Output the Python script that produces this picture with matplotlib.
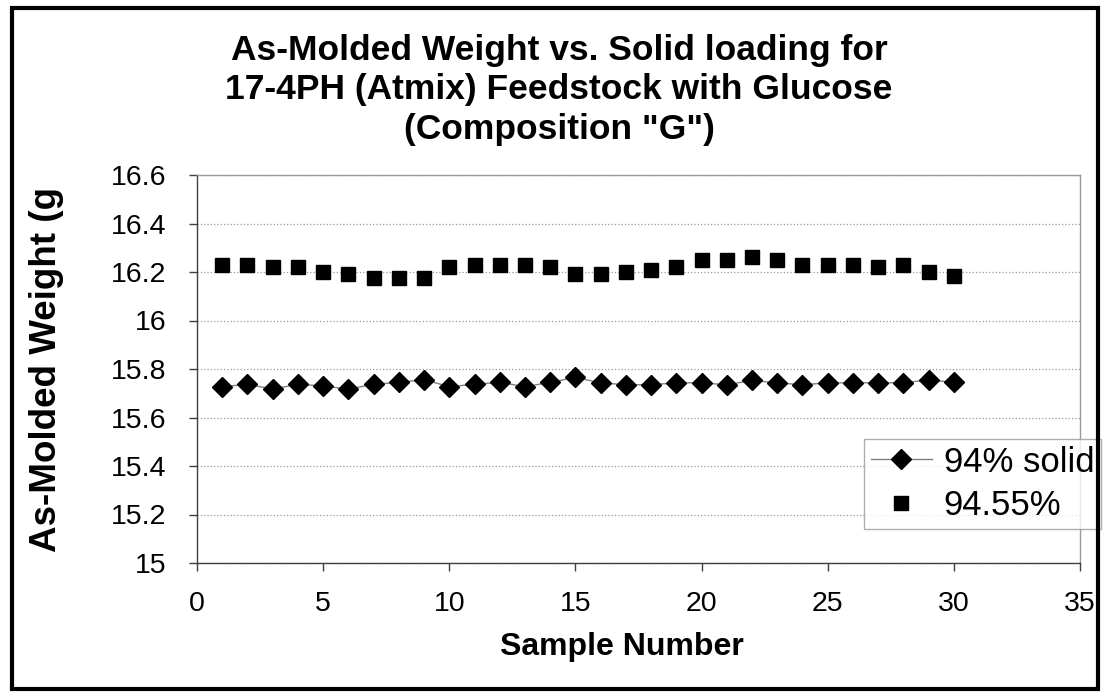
import numpy as np
import matplotlib.pyplot as plt
from matplotlib.patches import Rectangle

plt.rcParams['font.family'] = ['Liberation Sans', 'DejaVu Sans']

# sample numbers
samples = list(range(1, 31))

# 94% solid loading
solid_94 = [15.727, 15.737, 15.717, 15.737, 15.730, 15.717, 15.737, 15.745, 15.756, 15.727,
            15.737, 15.745, 15.727, 15.745, 15.765, 15.743, 15.735, 15.735, 15.743, 15.743,
            15.735, 15.753, 15.743, 15.735, 15.743, 15.743, 15.743, 15.743, 15.755, 15.745]

# 94.55% solid loading
solid_9455 = [16.23, 16.23, 16.22, 16.22, 16.20, 16.19, 16.175, 16.175, 16.175, 16.22,
              16.23, 16.23, 16.23, 16.22, 16.193, 16.193, 16.20, 16.21, 16.22, 16.25,
              16.25, 16.26, 16.25, 16.23, 16.23, 16.23, 16.22, 16.23, 16.20, 16.185]

xticks = [0, 5, 10, 15, 20, 25, 30, 35]
yticks = [15, 15.2, 15.4, 15.6, 15.8, 16, 16.2, 16.4, 16.6]
ytick_labels = ['15', '15.2', '15.4', '15.6', '15.8', '16', '16.2', '16.4', '16.6']

W, H = 1110, 698
fig = plt.figure(figsize=(W / 100, H / 100), dpi=100)

# outer chart border
fig.patches.append(Rectangle((12 / W, 9 / H), 1086 / W, 681 / H, transform=fig.transFigure,
                             fill=False, edgecolor='black', linewidth=3, zorder=10))

ax = fig.add_axes([197 / W, 1 - 563 / H, (1080 - 197) / W, (563 - 175) / H])

ax.plot(samples, solid_94, color='#808080', linewidth=1, marker='D', markersize=10,
        markerfacecolor='black', markeredgecolor='black', label='94% solid')
ax.plot(samples, solid_9455, linestyle='none', marker='s', markersize=9.5,
        markerfacecolor='black', markeredgecolor='black', label='94.55%')

ax.set_xlim(0, 35)
ax.set_ylim(15, 16.6)
ax.set_xticks(xticks)
ax.set_yticks(yticks)
ax.set_yticklabels(ytick_labels)
ax.tick_params(axis='both', labelsize=20.5, direction='out', length=6, width=1, color='#404040')
ax.tick_params(axis='x', pad=14)
ax.tick_params(axis='y', pad=16)
ax.grid(axis='y', linestyle=':', color='#999999', linewidth=0.9)
ax.set_axisbelow(True)

for s in ['top', 'right']:
    ax.spines[s].set_color('#999999')
    ax.spines[s].set_linewidth(1)
for s in ['left', 'bottom']:
    ax.spines[s].set_color('#404040')
    ax.spines[s].set_linewidth(1)

fig.text(559 / W, 1 - 90 / H, 'As-Molded Weight vs. Solid loading for\n17-4PH (Atmix) Feedstock with Glucose\n(Composition "G")',
         ha='center', va='center', fontsize=25.5, fontweight='bold', linespacing=1.24)

fig.text(47 / W, 1 - 370 / H, 'As-Molded Weight (g', rotation=90, ha='center', va='center',
         fontsize=26.5, fontweight='bold')
fig.text(622 / W, 1 - 647 / H, 'Sample Number', ha='center', va='center',
         fontsize=23, fontweight='bold')

leg = ax.legend(loc='lower left', bbox_to_anchor=(864 / W, 1 - 529 / H), bbox_transform=fig.transFigure,
                fontsize=25, frameon=True, fancybox=False, borderpad=0.2, handlelength=1.75,
                labelspacing=0.3, handletextpad=0.35, borderaxespad=0)
leg.get_frame().set_edgecolor('#999999')
leg.get_frame().set_linewidth(1)

fig.savefig('out.png', dpi=100)
